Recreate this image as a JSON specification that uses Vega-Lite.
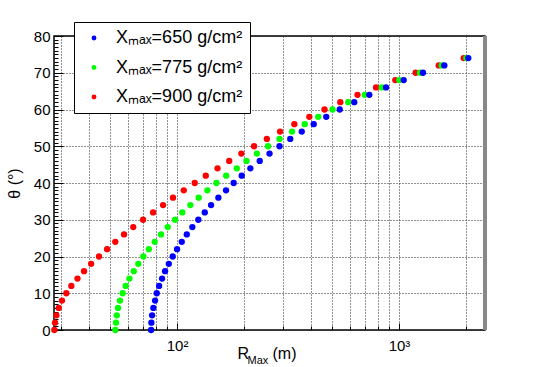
{
  "$schema": "https://vega.github.io/schema/vega-lite/v6.json",
  "width": 431,
  "height": 294,
  "autosize": {"type": "none"},
  "padding": {"left": 54, "top": 36, "right": 55, "bottom": 37},
  "background": "white",
  "config": {
    "view": {"stroke": "black", "strokeWidth": 1.5},
    "font": "Liberation Sans",
    "axis": {"domain": false, "labelFont": "Liberation Sans", "titleFont": "Liberation Sans", "titleFontWeight": "normal", "tickColor": "black", "labelColor": "black", "titleColor": "black"}
  },
  "data": {"values": [
    {"s": "Xₘₐₓ=900 g/cm²", "theta": 0, "R": 28.0}, {"s": "Xₘₐₓ=900 g/cm²", "theta": 2, "R": 28.2}, {"s": "Xₘₐₓ=900 g/cm²", "theta": 4, "R": 28.6}, {"s": "Xₘₐₓ=900 g/cm²", "theta": 6, "R": 29.3}, {"s": "Xₘₐₓ=900 g/cm²", "theta": 8, "R": 30.3}, {"s": "Xₘₐₓ=900 g/cm²", "theta": 10, "R": 31.7}, {"s": "Xₘₐₓ=900 g/cm²", "theta": 12, "R": 33.4}, {"s": "Xₘₐₓ=900 g/cm²", "theta": 14, "R": 35.6}, {"s": "Xₘₐₓ=900 g/cm²", "theta": 16, "R": 38.1}, {"s": "Xₘₐₓ=900 g/cm²", "theta": 18, "R": 41.0}, {"s": "Xₘₐₓ=900 g/cm²", "theta": 20, "R": 44.5}, {"s": "Xₘₐₓ=900 g/cm²", "theta": 22, "R": 48.4}, {"s": "Xₘₐₓ=900 g/cm²", "theta": 24, "R": 52.7}, {"s": "Xₘₐₓ=900 g/cm²", "theta": 26, "R": 57.7}, {"s": "Xₘₐₓ=900 g/cm²", "theta": 28, "R": 63.5}, {"s": "Xₘₐₓ=900 g/cm²", "theta": 30, "R": 70.3}, {"s": "Xₘₐₓ=900 g/cm²", "theta": 32, "R": 78.0}, {"s": "Xₘₐₓ=900 g/cm²", "theta": 34, "R": 86.5}, {"s": "Xₘₐₓ=900 g/cm²", "theta": 36, "R": 95.9}, {"s": "Xₘₐₓ=900 g/cm²", "theta": 38, "R": 107.2}, {"s": "Xₘₐₓ=900 g/cm²", "theta": 40, "R": 120.1}, {"s": "Xₘₐₓ=900 g/cm²", "theta": 42, "R": 134.7}, {"s": "Xₘₐₓ=900 g/cm²", "theta": 44, "R": 152.2}, {"s": "Xₘₐₓ=900 g/cm²", "theta": 46, "R": 171.8}, {"s": "Xₘₐₓ=900 g/cm²", "theta": 48, "R": 194.8}, {"s": "Xₘₐₓ=900 g/cm²", "theta": 50, "R": 222.3}, {"s": "Xₘₐₓ=900 g/cm²", "theta": 52, "R": 253.8}, {"s": "Xₘₐₓ=900 g/cm²", "theta": 54, "R": 291.1}, {"s": "Xₘₐₓ=900 g/cm²", "theta": 56, "R": 337.6}, {"s": "Xₘₐₓ=900 g/cm²", "theta": 58, "R": 394.5}, {"s": "Xₘₐₓ=900 g/cm²", "theta": 60, "R": 461.7}, {"s": "Xₘₐₓ=900 g/cm²", "theta": 62, "R": 544}, {"s": "Xₘₐₓ=900 g/cm²", "theta": 64, "R": 650}, {"s": "Xₘₐₓ=900 g/cm²", "theta": 66, "R": 788}, {"s": "Xₘₐₓ=900 g/cm²", "theta": 68, "R": 962}, {"s": "Xₘₐₓ=900 g/cm²", "theta": 70, "R": 1189}, {"s": "Xₘₐₓ=900 g/cm²", "theta": 72, "R": 1510}, {"s": "Xₘₐₓ=900 g/cm²", "theta": 74, "R": 1956},
    {"s": "Xₘₐₓ=775 g/cm²", "theta": 0, "R": 52.7}, {"s": "Xₘₐₓ=775 g/cm²", "theta": 2, "R": 53.1}, {"s": "Xₘₐₓ=775 g/cm²", "theta": 4, "R": 53.5}, {"s": "Xₘₐₓ=775 g/cm²", "theta": 6, "R": 54.2}, {"s": "Xₘₐₓ=775 g/cm²", "theta": 8, "R": 55.3}, {"s": "Xₘₐₓ=775 g/cm²", "theta": 10, "R": 56.9}, {"s": "Xₘₐₓ=775 g/cm²", "theta": 12, "R": 58.7}, {"s": "Xₘₐₓ=775 g/cm²", "theta": 14, "R": 61.0}, {"s": "Xₘₐₓ=775 g/cm²", "theta": 16, "R": 63.8}, {"s": "Xₘₐₓ=775 g/cm²", "theta": 18, "R": 66.9}, {"s": "Xₘₐₓ=775 g/cm²", "theta": 20, "R": 70.5}, {"s": "Xₘₐₓ=775 g/cm²", "theta": 22, "R": 74.6}, {"s": "Xₘₐₓ=775 g/cm²", "theta": 24, "R": 79.3}, {"s": "Xₘₐₓ=775 g/cm²", "theta": 26, "R": 84.7}, {"s": "Xₘₐₓ=775 g/cm²", "theta": 28, "R": 90.8}, {"s": "Xₘₐₓ=775 g/cm²", "theta": 30, "R": 98.0}, {"s": "Xₘₐₓ=775 g/cm²", "theta": 32, "R": 105.6}, {"s": "Xₘₐₓ=775 g/cm²", "theta": 34, "R": 114.8}, {"s": "Xₘₐₓ=775 g/cm²", "theta": 36, "R": 125.2}, {"s": "Xₘₐₓ=775 g/cm²", "theta": 38, "R": 137.0}, {"s": "Xₘₐₓ=775 g/cm²", "theta": 40, "R": 150.4}, {"s": "Xₘₐₓ=775 g/cm²", "theta": 42, "R": 166.5}, {"s": "Xₘₐₓ=775 g/cm²", "theta": 44, "R": 185.8}, {"s": "Xₘₐₓ=775 g/cm²", "theta": 46, "R": 205.5}, {"s": "Xₘₐₓ=775 g/cm²", "theta": 48, "R": 228.8}, {"s": "Xₘₐₓ=775 g/cm²", "theta": 50, "R": 257}, {"s": "Xₘₐₓ=775 g/cm²", "theta": 52, "R": 289.5}, {"s": "Xₘₐₓ=775 g/cm²", "theta": 54, "R": 329.6}, {"s": "Xₘₐₓ=775 g/cm²", "theta": 56, "R": 376.1}, {"s": "Xₘₐₓ=775 g/cm²", "theta": 58, "R": 432.5}, {"s": "Xₘₐₓ=775 g/cm²", "theta": 60, "R": 501.7}, {"s": "Xₘₐₓ=775 g/cm²", "theta": 62, "R": 590.6}, {"s": "Xₘₐₓ=775 g/cm²", "theta": 64, "R": 700.6}, {"s": "Xₘₐₓ=775 g/cm²", "theta": 66, "R": 836}, {"s": "Xₘₐₓ=775 g/cm²", "theta": 68, "R": 1003}, {"s": "Xₘₐₓ=775 g/cm²", "theta": 70, "R": 1243}, {"s": "Xₘₐₓ=775 g/cm²", "theta": 72, "R": 1557}, {"s": "Xₘₐₓ=775 g/cm²", "theta": 74, "R": 2010},
    {"s": "Xₘₐₓ=650 g/cm²", "theta": 0, "R": 76.4}, {"s": "Xₘₐₓ=650 g/cm²", "theta": 2, "R": 76.6}, {"s": "Xₘₐₓ=650 g/cm²", "theta": 4, "R": 77.2}, {"s": "Xₘₐₓ=650 g/cm²", "theta": 6, "R": 78.2}, {"s": "Xₘₐₓ=650 g/cm²", "theta": 8, "R": 79.6}, {"s": "Xₘₐₓ=650 g/cm²", "theta": 10, "R": 81.0}, {"s": "Xₘₐₓ=650 g/cm²", "theta": 12, "R": 83.0}, {"s": "Xₘₐₓ=650 g/cm²", "theta": 14, "R": 85.6}, {"s": "Xₘₐₓ=650 g/cm²", "theta": 16, "R": 88.3}, {"s": "Xₘₐₓ=650 g/cm²", "theta": 18, "R": 91.8}, {"s": "Xₘₐₓ=650 g/cm²", "theta": 20, "R": 95.6}, {"s": "Xₘₐₓ=650 g/cm²", "theta": 22, "R": 100}, {"s": "Xₘₐₓ=650 g/cm²", "theta": 24, "R": 105.0}, {"s": "Xₘₐₓ=650 g/cm²", "theta": 26, "R": 110.6}, {"s": "Xₘₐₓ=650 g/cm²", "theta": 28, "R": 117.2}, {"s": "Xₘₐₓ=650 g/cm²", "theta": 30, "R": 124.7}, {"s": "Xₘₐₓ=650 g/cm²", "theta": 32, "R": 133.3}, {"s": "Xₘₐₓ=650 g/cm²", "theta": 34, "R": 142.3}, {"s": "Xₘₐₓ=650 g/cm²", "theta": 36, "R": 153.5}, {"s": "Xₘₐₓ=650 g/cm²", "theta": 38, "R": 166.2}, {"s": "Xₘₐₓ=650 g/cm²", "theta": 40, "R": 179.9}, {"s": "Xₘₐₓ=650 g/cm²", "theta": 42, "R": 195.6}, {"s": "Xₘₐₓ=650 g/cm²", "theta": 44, "R": 213.9}, {"s": "Xₘₐₓ=650 g/cm²", "theta": 46, "R": 235.8}, {"s": "Xₘₐₓ=650 g/cm²", "theta": 48, "R": 261}, {"s": "Xₘₐₓ=650 g/cm²", "theta": 50, "R": 289.5}, {"s": "Xₘₐₓ=650 g/cm²", "theta": 52, "R": 323.6}, {"s": "Xₘₐₓ=650 g/cm²", "theta": 54, "R": 364.6}, {"s": "Xₘₐₓ=650 g/cm²", "theta": 56, "R": 412.8}, {"s": "Xₘₐₓ=650 g/cm²", "theta": 58, "R": 470}, {"s": "Xₘₐₓ=650 g/cm²", "theta": 60, "R": 540.6}, {"s": "Xₘₐₓ=650 g/cm²", "theta": 62, "R": 628.5}, {"s": "Xₘₐₓ=650 g/cm²", "theta": 64, "R": 734.8}, {"s": "Xₘₐₓ=650 g/cm²", "theta": 66, "R": 873.8}, {"s": "Xₘₐₓ=650 g/cm²", "theta": 68, "R": 1050}, {"s": "Xₘₐₓ=650 g/cm²", "theta": 70, "R": 1282}, {"s": "Xₘₐₓ=650 g/cm²", "theta": 72, "R": 1600}, {"s": "Xₘₐₓ=650 g/cm²", "theta": 74, "R": 2052}
  ]},
  "layer": [
    {
      "mark": {"type": "point", "filled": true, "opacity": 1, "size": 40, "strokeWidth": 0},
      "encoding": {
        "x": {"field": "R", "type": "quantitative",
              "scale": {"type": "log", "domain": [27.9, 2440], "nice": false},
              "axis": {"orient": "bottom", "values": [30,40,50,60,70,80,90,100,200,300,400,500,600,700,800,900,1000,2000],
                       "labelExpr": "datum.value == 100 ? '10²' : datum.value == 1000 ? '10³' : ''",
                       "labelFontSize": 15, "labelPadding": 8, "labelFlush": false, "labelOverlap": false,
                       "ticks": false, "grid": true, "gridDash": [1, 2], "gridColor": "#222", "gridWidth": 1,
                       "title": "R", "titleFontSize": 16, "titleAlign": "left", "titleBaseline": "alphabetic", "titleX": 183, "titleY": 28}},
        "y": {"field": "theta", "type": "quantitative",
              "scale": {"domain": [0, 80], "nice": false, "zero": false},
              "axis": {"orient": "left", "values": [0,10,20,30,40,50,60,70,80], "labelFontSize": 15, "labelPadding": 4,
                       "ticks": false, "grid": true, "gridDash": [1, 2], "gridColor": "#222", "gridWidth": 1,
                       "title": "θ (°)", "titleFontSize": 16, "titleAngle": -90, "titleAlign": "center", "titleBaseline": "middle", "titleX": -40, "titleY": 147}},
        "color": {"field": "s", "type": "nominal",
                  "scale": {"domain": ["Xₘₐₓ=650 g/cm²", "Xₘₐₓ=775 g/cm²", "Xₘₐₓ=900 g/cm²"], "range": ["#0000ff", "#00ff00", "#ff0000"]},
                  "legend": {"title": null, "orient": "none", "legendX": 20, "legendY": -14, "direction": "vertical",
                             "fillColor": "white", "strokeColor": "black", "padding": 7,
                             "labelFont": "Liberation Sans", "labelFontSize": 18, "labelColor": "black", "labelOffset": 13,
                             "symbolType": "circle", "symbolSize": 24, "symbolStrokeWidth": 0, "symbolOffset": 4, "rowPadding": 11.5}}
      }
    },
    {
      "mark": {"type": "point", "opacity": 0},
      "encoding": {
        "x": {"field": "R", "type": "quantitative",
              "axis": {"orient": "bottom", "values": [30,40,50,60,70,80,90,100,200,300,400,500,600,700,800,900,1000,2000],
                       "labels": false, "grid": false, "ticks": true, "tickSize": -4, "tickWidth": 1,
                       "title": "Max", "titleFontSize": 11, "titleAlign": "left", "titleBaseline": "alphabetic", "titleX": 193, "titleY": 33}},
        "y": {"field": "theta", "type": "quantitative",
              "axis": {"orient": "left", "values": [0,1,2,3,4,5,6,7,8,9,10,11,12,13,14,15,16,17,18,19,20,21,22,23,24,25,26,27,28,29,30,31,32,33,34,35,36,37,38,39,40,41,42,43,44,45,46,47,48,49,50,51,52,53,54,55,56,57,58,59,60,61,62,63,64,65,66,67,68,69,70,71,72,73,74,75,76,77,78,79,80],
                       "labels": false, "grid": false, "ticks": true, "tickSize": -4, "tickWidth": 1, "title": null}}
      }
    },
    {
      "mark": {"type": "point", "opacity": 0},
      "encoding": {
        "x": {"field": "R", "type": "quantitative",
              "axis": {"orient": "bottom", "values": [100, 1000],
                       "labels": false, "grid": false, "ticks": true, "tickSize": -7, "tickWidth": 1,
                       "title": "(m)", "titleFontSize": 16, "titleAlign": "left", "titleBaseline": "alphabetic", "titleX": 218, "titleY": 28}},
        "y": {"field": "theta", "type": "quantitative",
              "axis": {"orient": "left", "values": [0,10,20,30,40,50,60,70,80],
                       "labels": false, "grid": false, "ticks": true, "tickSize": -9, "tickWidth": 1, "title": null}}
      }
    },
    {
      "mark": {"type": "rule", "color": "#888888", "strokeWidth": 3},
      "encoding": {
        "x": {"datum": 2440, "type": "quantitative", "axis": null},
        "y": {"datum": 0, "type": "quantitative", "axis": null},
        "y2": {"datum": 80}
      }
    }
  ],
  "resolve": {"axis": {"x": "independent", "y": "independent"}}
}
